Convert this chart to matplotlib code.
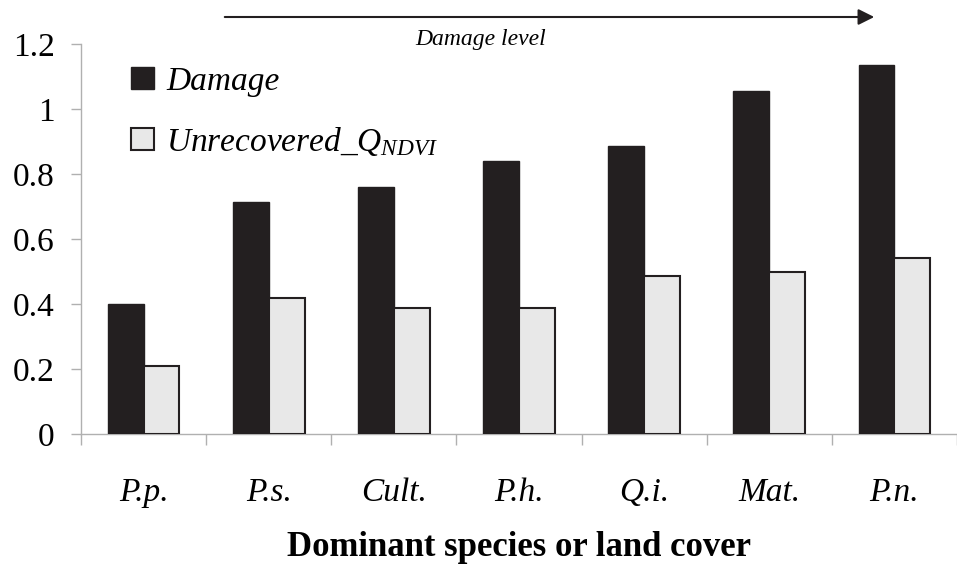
import matplotlib
matplotlib.use("Agg")
import matplotlib.pyplot as plt
import numpy as np

categories = ["P.p.", "P.s.", "Cult.", "P.h.", "Q.i.", "Mat.", "P.n."]
damage = [0.40, 0.715, 0.76, 0.84, 0.885, 1.055, 1.135]
unrecovered = [0.21, 0.42, 0.387, 0.387, 0.485, 0.497, 0.542]
yticks = [0, 0.2, 0.4, 0.6, 0.8, 1.0, 1.2]
yticklabels = ["0", "0.2", "0.4", "0.6", "0.8", "1", "1.2"]

plt.rcParams['font.family'] = ['Liberation Serif', 'DejaVu Serif']
plt.rcParams['mathtext.fontset'] = 'custom'
plt.rcParams['mathtext.rm'] = 'Liberation Serif'
plt.rcParams['mathtext.it'] = 'Liberation Serif:italic'

W, H = 957, 567
fig = plt.figure(figsize=(W / 100, H / 100), dpi=100)
ax = fig.add_axes([81 / W, 1 - 434 / H, (957 - 81) / W, (434 - 44) / H])

x = np.arange(len(categories))
bw = 0.286
ax.bar(x - bw / 2, damage, bw, color="#231f20", edgecolor="#231f20", linewidth=1.0,
       label="Damage", zorder=3)
ax.bar(x + bw / 2, unrecovered, bw, color="#e8e8e8", edgecolor="#231f20", linewidth=1.5,
       label=r"$\mathit{Unrecovered\_Q_{NDVI}}$", zorder=3)

ax.set_xlim(-0.5, -0.5 + 876 / 126)
ax.set_ylim(0, 1.2)

for s in ["top", "right"]:
    ax.spines[s].set_visible(False)
for s in ["left", "bottom"]:
    ax.spines[s].set_color("#b0b0b0")
    ax.spines[s].set_linewidth(1.0)

ax.set_yticks(yticks)
ax.set_yticklabels(yticklabels, fontsize=24)
ax.tick_params(axis="y", direction="out", length=7, width=1, color="#b0b0b0", pad=12)

ax.set_xticks(x)
ax.set_xticklabels(categories, fontsize=24, style="italic")
ax.tick_params(axis="x", which="major", length=0, pad=31)
ax.set_xticks(np.arange(len(categories) + 1) - 0.5, minor=True)
ax.tick_params(axis="x", which="minor", direction="out", length=8, width=1, color="#b0b0b0")

leg = ax.legend(loc="upper left", bbox_to_anchor=(0.042, 0.977), frameon=False,
                prop={"style": "italic", "size": 24},
                handlelength=0.7, handleheight=0.65, handletextpad=0.35,
                labelspacing=0.85, borderaxespad=0)

fig.text(519 / W, 1 - 548 / H, "Dominant species or land cover", ha="center", va="center",
         fontsize=25, fontweight="bold")

fig.add_artist(matplotlib.patches.FancyArrowPatch(
    (222 / W, 1 - 17 / H), (877 / W, 1 - 17 / H), transform=fig.transFigure,
    arrowstyle="-|>", mutation_scale=24, color="#231f20", linewidth=1.5))
fig.text(481 / W, 1 - 39 / H, "Damage level", ha="center", va="center",
         fontsize=17, style="italic")

fig.savefig("out.png", dpi=100)
